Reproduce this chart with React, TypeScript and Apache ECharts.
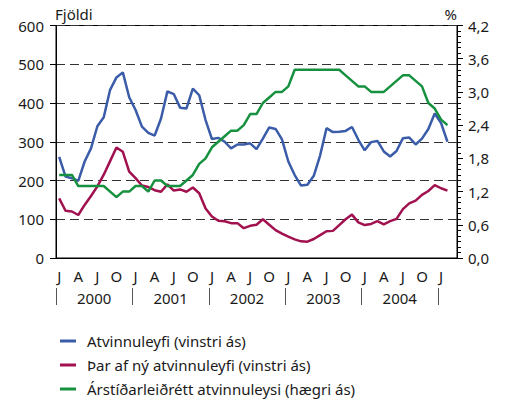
import React, { useEffect, useRef } from "react";
import * as echarts from "echarts";

const monthInitials = ["J", "F", "M", "A", "M", "J", "J", "A", "S", "O", "N", "D"];
const startYear = 2000;
const monthCount = 63;
const months: string[] = Array.from({ length: monthCount }, (_, i) => `${startYear + Math.floor(i / 12)}-${i % 12}`);
const years = ["2000", "2001", "2002", "2003", "2004"];

const seriesNames = [
  "Atvinnuleyfi (vinstri ás)",
  "Þar af ný atvinnuleyfi (vinstri ás)",
  "Árstíðarleiðrétt atvinnuleysi (hægri ás)",
];

const permits = [
  261, 210, 206, 199, 249, 283, 340, 363, 434, 466, 479, 415,
  382, 339, 323, 316, 360, 430, 423, 388, 386, 437, 420, 356,
  307, 310, 300, 283, 293, 293, 296, 281, 308, 337, 333, 306,
  249, 214, 187, 189, 212, 265, 335, 325, 326, 328, 338, 305,
  278, 299, 302, 275, 262, 276, 309, 311, 293, 308, 333, 373,
  348, 300,
];

const newPermits = [
  154, 122, 120, 111, 137, 160, 185, 215, 250, 285, 274, 223,
  206, 187, 183, 175, 171, 190, 174, 177, 171, 182, 167, 128,
  107, 96, 95, 90, 90, 77, 83, 86, 100, 86, 72, 63,
  55, 48, 43, 42, 49, 59, 69, 70, 85, 100, 112, 92,
  85, 88, 95, 87, 95, 101, 126, 141, 148, 163, 173, 188,
  180, 174,
];

const unemployment = [
  1.5, 1.5, 1.5, 1.3, 1.3, 1.3, 1.3, 1.3, 1.2, 1.1, 1.2, 1.2,
  1.3, 1.3, 1.2, 1.4, 1.4, 1.3, 1.3, 1.3, 1.4, 1.5, 1.7, 1.8,
  2.0, 2.1, 2.2, 2.3, 2.3, 2.4, 2.6, 2.6, 2.8, 2.9, 3.0, 3.0,
  3.1, 3.4, 3.4, 3.4, 3.4, 3.4, 3.4, 3.4, 3.4, 3.3, 3.2, 3.1,
  3.1, 3.0, 3.0, 3.0, 3.1, 3.2, 3.3, 3.3, 3.2, 3.1, 2.8, 2.7,
  2.5, 2.4,
];

const colors = ["#3b5ca8", "#a1104f", "#16913f"];

const FONT = "Noto Sans";
const TXT = "#1a1a1a";

const PLOT_LEFT = 56;
const PLOT_WIDTH = 401;

export default function App() {
  const ref = useRef<HTMLDivElement>(null);
  useEffect(() => {
    if (!ref.current) return;
    const chart = echarts.init(ref.current, null, { renderer: "svg" });
    const band = PLOT_WIDTH / monthCount;
    chart.setOption({
      animation: false,
      textStyle: { fontFamily: FONT },
      grid: [
        {
          left: PLOT_LEFT,
          width: PLOT_WIDTH,
          top: 25.5,
          bottom: 145,
          show: true,
          borderColor: "#000",
          borderWidth: 1,
        },
        {
          left: PLOT_LEFT,
          width: band * years.length * 12,
          top: 287,
          height: 1,
          show: false,
        },
      ],
      legend: {
        type: "plain",
        orient: "vertical",
        left: 55,
        top: 327,
        height: 90,
        itemWidth: 16,
        itemHeight: 3,
        itemGap: 6,
        icon: "rect",
        data: seriesNames,
        textStyle: { fontFamily: FONT, fontSize: 15, color: TXT, lineHeight: 18, padding: [0, 0, 0, 6] },
      },
      xAxis: [
        {
          type: "category",
          gridIndex: 0,
          data: months,
          boundaryGap: true,
          axisLine: { lineStyle: { color: "#000", width: 1 } },
          axisTick: { interval: 0, alignWithLabel: true, length: 5, lineStyle: { color: "#000" } },
          axisLabel: {
            interval: 2,
            margin: 10,
            fontSize: 15,
            color: TXT,
            fontFamily: FONT,
            formatter: (_v: string, i: number) => monthInitials[i % 12],
          },
          splitLine: { show: false },
        },
        {
          type: "category",
          gridIndex: 1,
          data: years,
          position: "bottom",
          boundaryGap: true,
          axisLine: { show: true, lineStyle: { color: "rgba(0,0,0,0)", width: 1 } },
          axisTick: {
            show: true,
            interval: 0,
            length: 17,
            lineStyle: { color: "#555", width: 1 },
          },
          axisLabel: {
            interval: 0,
            margin: 2,
            fontSize: 15,
            color: TXT,
            fontFamily: FONT,
          },
          splitLine: { show: false },
        },
      ],
      yAxis: [
        {
          type: "value",
          gridIndex: 0,
          min: 0,
          max: 600,
          interval: 100,
          name: "Fjöldi",
          nameLocation: "end",
          nameGap: 4,
          nameTextStyle: { align: "left", verticalAlign: "bottom", fontSize: 15, color: TXT, fontFamily: FONT, padding: [0, 0, 0, -1] },
          axisLine: { show: true, lineStyle: { color: "#000", width: 1 } },
          axisTick: { show: true, length: 6, lineStyle: { color: "#000" } },
          axisLabel: { margin: 12, fontSize: 15, color: TXT, fontFamily: FONT },
          splitLine: { show: true, lineStyle: { color: "#333", width: 1, type: [9, 5] } },
        },
        {
          type: "value",
          gridIndex: 0,
          min: 0,
          max: 4.2,
          interval: 0.6,
          position: "right",
          name: "%",
          nameLocation: "end",
          nameGap: 4,
          nameTextStyle: { align: "right", verticalAlign: "bottom", fontSize: 15, color: TXT, fontFamily: FONT },
          axisLine: { show: true, lineStyle: { color: "#000", width: 1 } },
          axisTick: { show: true, length: 6, lineStyle: { color: "#000" } },
          minorTick: { show: true, splitNumber: 6, length: 4, lineStyle: { color: "#000" } },
          axisLabel: {
            margin: 11,
            fontSize: 15,
            color: TXT,
            fontFamily: FONT,
            formatter: (v: number) => v.toFixed(1).replace(".", ","),
          },
          splitLine: { show: false },
        },
        {
          type: "value",
          gridIndex: 1,
          show: false,
        },
      ],
      series: [
        {
          name: seriesNames[0],
          type: "line",
          data: permits,
          xAxisIndex: 0,
          yAxisIndex: 0,
          showSymbol: false,
          symbol: "none",
          lineStyle: { color: colors[0], width: 2.5 },
          itemStyle: { color: colors[0] },
        },
        {
          name: seriesNames[1],
          type: "line",
          data: newPermits,
          xAxisIndex: 0,
          yAxisIndex: 0,
          showSymbol: false,
          symbol: "none",
          lineStyle: { color: colors[1], width: 2.5 },
          itemStyle: { color: colors[1] },
        },
        {
          name: seriesNames[2],
          type: "line",
          data: unemployment,
          xAxisIndex: 0,
          yAxisIndex: 1,
          showSymbol: false,
          symbol: "none",
          lineStyle: { color: colors[2], width: 2.5 },
          itemStyle: { color: colors[2] },
        },
      ],
    });
    return () => chart.dispose();
  }, []);
  return <div ref={ref} style={{ position: "absolute", left: 0, top: 0, width: 507, height: 403 }} />;
}
